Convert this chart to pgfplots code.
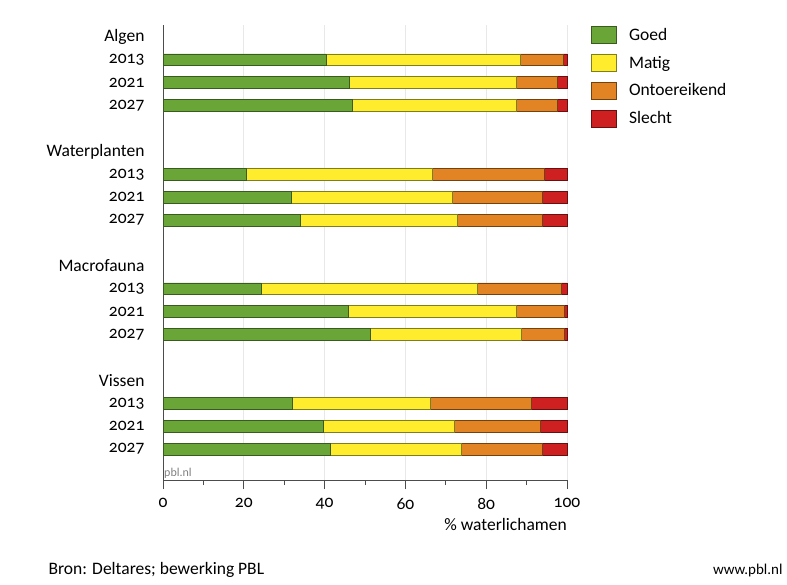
\documentclass[border=0pt]{standalone}
\usepackage{fontspec}
\setmainfont{Carlito}[Numbers=OldStyle]
\usepackage{pgfplots}
\pgfplotsset{compat=1.18}
\usepackage{pgfplotstable}
\definecolor{goed}{RGB}{106,165,56}
\definecolor{matig}{RGB}{255,236,45}
\definecolor{ontoe}{RGB}{226,131,36}
\definecolor{slecht}{RGB}{206,32,32}
\pgfplotstableread{
row goed matig ontoe slecht
-1 40.3 48.1 10.6 1.0
-2 46.0 41.4 10.3 2.3
-3 46.9 40.5 10.2 2.4
-6 20.7 46.0 27.6 5.7
-7 31.7 40.0 22.3 6.0
-8 34.1 38.8 21.1 6.0
-11 24.3 53.5 20.9 1.3
-12 45.8 41.6 12.0 0.6
-13 51.3 37.3 10.8 0.6
-16 32.0 34.1 25.0 8.9
-17 39.7 32.3 21.3 6.7
-18 41.3 32.6 20.0 6.1
}\data
\newcommand{\fs}{\fontsize{17.5}{19}\selectfont}
\begin{document}
\begin{tikzpicture}[x=1pt,y=1pt]
\useasboundingbox (0,0) rectangle (787,584);
\fill[white] (0,0) rectangle (787,584);
\begin{axis}[
  at={(163pt,104pt)}, anchor=south west,
  scale only axis, width=404pt, height=455pt,
  xbar stacked, bar width=0.52,
  xmin=0, xmax=100, ymin=-19.35, ymax=0.52,
  axis x line*=bottom, axis y line*=left,
  axis line style={gray!60!black, line width=0.8pt},
  xtick={0,20,...,100}, xticklabels={\mbox{0},\mbox{20},\mbox{40},\mbox{60},\mbox{80},\mbox{100}},
  minor xtick={10,30,...,90},
  tick align=outside, major tick length=9pt, minor tick length=5pt,
  xtick style={gray!60!black, line width=0.7pt},
  xmajorgrids, major grid style={gray!18, line width=0.8pt},
  ticklabel style={font=\fs},
  xticklabel style={yshift=-6pt},
  ytick={0,-1,-2,-3,-5,-6,-7,-8,-10,-11,-12,-13,-15,-16,-17,-18},
  yticklabels={Algen,2013,2021,2027,Waterplanten,2013,2021,2027,Macrofauna,2013,2021,2027,Vissen,2013,2021,2027},
  ytick style={draw=none},
  yticklabel style={xshift=-6pt},
  xlabel={\% waterlichamen},
  xlabel style={font=\fs, at={(rel axis cs:1,0)}, anchor=north east, yshift=-38pt, inner sep=0pt},
  legend style={at={(1.060,0.998)}, anchor=north west, draw=none, fill=none,
    font=\fs, row sep=10.2pt, inner sep=0pt, nodes={inner sep=2pt},
    /tikz/every odd column/.append style={column sep=10pt}},
  legend cell align=left,
  every axis plot/.append style={line width=0.6pt},
  legend image code/.code={\draw[#1] (0pt,-8.5pt) rectangle (25pt,8.5pt);},
  clip=false,
]
\addplot[fill=goed, draw=goed!55!black] table[x=goed, y=row] {\data};
\addplot[fill=matig, draw=matig!50!black!80!goed] table[x=matig, y=row] {\data};
\addplot[fill=ontoe, draw=ontoe!50!black] table[x=ontoe, y=row] {\data};
\addplot[fill=slecht, draw=slecht!50!black] table[x=slecht, y=row] {\data};
\legend{Goed,Matig,Ontoereikend,Slecht}
\node[anchor=south west, inner sep=1pt, font=\fontsize{12}{14}\selectfont, text=gray] at (rel axis cs:0,0) {pbl.nl};
\end{axis}
\node[anchor=west, font=\fs] at (45,14) {Bron: Deltares; bewerking PBL};
\node[anchor=east, font=\fontsize{15}{17}\selectfont] at (786,14) {www.pbl.nl};
\end{tikzpicture}
\end{document}
